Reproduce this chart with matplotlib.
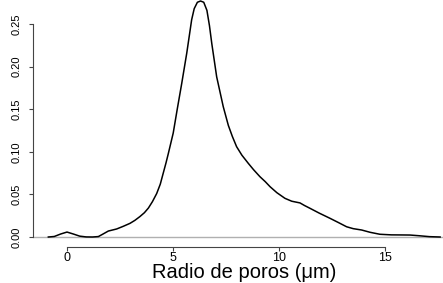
import matplotlib
matplotlib.use("Agg")
import matplotlib.pyplot as plt

plt.rcParams['font.family'] = ['Liberation Sans', 'DejaVu Sans']

# Density curve
radius = [-0.88, -0.6, -0.3, 0.0, 0.3, 0.6, 0.9, 1.2, 1.48, 1.7, 1.95, 2.34, 2.65, 2.97,
          3.2, 3.44, 3.65, 3.84, 4.03, 4.23, 4.4, 4.54, 4.67, 4.78, 5.01, 5.2, 5.41,
          5.65, 5.88, 6.0, 6.15, 6.3, 6.45, 6.6, 6.72, 6.83, 7.06, 7.37, 7.61, 7.8,
          8.0, 8.25, 8.55, 8.8, 9.1, 9.35, 9.58, 9.9, 10.28, 10.6, 10.99, 11.2, 11.46,
          11.9, 12.4, 12.8, 13.19, 13.5, 13.9, 14.3, 14.76, 15.3, 15.8, 16.18, 16.6,
          17.1, 17.6]
density = [0.0, 0.0006, 0.0035, 0.0058, 0.0035, 0.001, 0.0001, 0.0, 0.0005, 0.0035,
           0.007, 0.0094, 0.0125, 0.016, 0.0195, 0.024, 0.0285, 0.034, 0.0415, 0.051,
           0.062, 0.075, 0.087, 0.098, 0.122, 0.15, 0.18, 0.216, 0.255, 0.268, 0.2755,
           0.277, 0.2755, 0.266, 0.248, 0.227, 0.188, 0.153, 0.131, 0.118, 0.106,
           0.096, 0.0865, 0.079, 0.0708, 0.065, 0.059, 0.052, 0.0454, 0.042, 0.040,
           0.037, 0.0337, 0.028, 0.022, 0.017, 0.012, 0.0098, 0.0082, 0.0055, 0.0032,
           0.0025, 0.0024, 0.0023, 0.0015, 0.0004, 0.0]

xticks = [0, 5, 10, 15]
xticklabels = ['0', '5', '10', '15']
yticks = [0.00, 0.05, 0.10, 0.15, 0.20, 0.25]
yticklabels = ['0.00', '0.05', '0.10', '0.15', '0.20', '0.25']

W, H = 443, 283
fig = plt.figure(figsize=(W / 100, H / 100), dpi=100)
left_px, right_px, top_px, bottom_px = 33, 443, 0, 247
ax = fig.add_axes([left_px / W, 1 - bottom_px / H, (right_px - left_px) / W,
                   (bottom_px - top_px) / H])

# pixel mapping: x=0 at 67px, 21.2 px per unit; y=0 at 237px, 852 px per unit
x0, sx = 67, 21.2
y0, sy = 237, 852
ax.set_xlim((left_px - x0) / sx, (right_px - x0) / sx)
ax.set_ylim((y0 - bottom_px) / sy, (y0 - top_px) / sy)

ax.axhline(0, color='#b0b0b0', lw=1.0, zorder=1)
ax.plot(radius, density, color='black', lw=1.1, zorder=2, clip_on=True)

for s in ['top', 'right']:
    ax.spines[s].set_visible(False)
ax.spines['left'].set_bounds(0, 0.25)
ax.spines['bottom'].set_bounds(0, 15)
for s in ['left', 'bottom']:
    ax.spines[s].set_color('#444444')
    ax.spines[s].set_linewidth(0.8)

ax.set_xticks(xticks)
ax.set_xticklabels(xticklabels, fontsize=9)
ax.set_yticks(yticks)
ax.set_yticklabels(yticklabels, fontsize=8, rotation=90, va='center')
ax.tick_params(axis='x', length=3, width=0.8, color='#444444', pad=0.5)
ax.tick_params(axis='y', length=3, width=0.8, color='#444444', pad=5)

fig.text(((152 + 337) / 2) / W, 1 - 273 / H, 'Radio de poros (μm)', fontsize=14.5,
         ha='center', va='center')

fig.savefig('out.png', dpi=100)
